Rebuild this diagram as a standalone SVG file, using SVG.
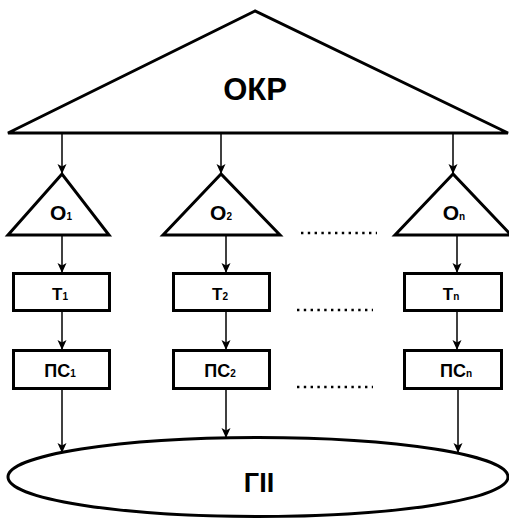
<svg xmlns="http://www.w3.org/2000/svg" width="509" height="518" viewBox="0 0 509 518">
<defs>
<marker id="ah" markerWidth="10" markerHeight="12" refX="9" refY="5" orient="auto" markerUnits="userSpaceOnUse">
<path d="M0,0.5 L10,5 L0,9.5 L2.5,5 Z" fill="#000"/>
</marker>
<style>
.sh{fill:#fff;stroke:#000;stroke-width:3;stroke-linejoin:miter}
.lb{font-family:"Liberation Sans",Arial,sans-serif;font-weight:bold;fill:#000;text-anchor:middle}
.sub{font-size:10px}
.ar{stroke:#000;stroke-width:1.5;fill:none;marker-end:url(#ah)}
.dots{stroke:#000;stroke-width:2.4;stroke-dasharray:2.4 4.4;fill:none}
</style>
</defs>
<rect width="509" height="518" fill="#fff"/>
<g id="okr">
<polygon class="sh" points="255,11 8,133 508,133"/>
<text class="lb" x="255" y="100" font-size="31">ОКР</text>
</g>
<g id="o1">
<polygon class="sh" points="62,174 8,235 109,235"/>
<text class="lb" x="61" y="220" font-size="21">О<tspan class="sub">1</tspan></text>
</g>
<g id="o2">
<polygon class="sh" points="221,174 163,235 280,235"/>
<text class="lb" x="221" y="220" font-size="21">О<tspan class="sub">2</tspan></text>
</g>
<g id="on">
<polygon class="sh" points="453,174 395,235 511,235"/>
<text class="lb" x="454" y="220" font-size="21">О<tspan class="sub">n</tspan></text>
</g>
<g id="t1">
<rect class="sh" x="13.5" y="273.5" width="96" height="37"/>
<text class="lb" x="60" y="300" font-size="17">Т<tspan class="sub">1</tspan></text>
</g>
<g id="t2">
<rect class="sh" x="173.5" y="273.5" width="96" height="37"/>
<text class="lb" x="220" y="300" font-size="17">Т<tspan class="sub">2</tspan></text>
</g>
<g id="tn">
<rect class="sh" x="404.5" y="273.5" width="97" height="37"/>
<text class="lb" x="451" y="300" font-size="17">Т<tspan class="sub">n</tspan></text>
</g>
<g id="ps1">
<rect class="sh" x="13.5" y="350.5" width="96" height="38"/>
<text class="lb" x="60" y="377" font-size="18">ПС<tspan class="sub">1</tspan></text>
</g>
<g id="ps2">
<rect class="sh" x="173.5" y="350.5" width="96" height="38"/>
<text class="lb" x="220" y="377" font-size="18">ПС<tspan class="sub">2</tspan></text>
</g>
<g id="psn">
<rect class="sh" x="404.5" y="350.5" width="97" height="38"/>
<text class="lb" x="456" y="377" font-size="18">ПС<tspan class="sub">n</tspan></text>
</g>
<g id="gii">
<ellipse class="sh" cx="258" cy="477" rx="250" ry="39.5"/>
<text class="lb" x="259" y="492" font-size="27">ГІІ</text>
</g>
<g id="dots">
<line class="dots" x1="301" y1="233" x2="377" y2="233"/>
<line class="dots" x1="297" y1="310" x2="373" y2="310"/>
<line class="dots" x1="297" y1="387" x2="373" y2="387"/>
</g>
<g id="connectors">
<line class="ar" x1="62" y1="134" x2="62" y2="173"/>
<line class="ar" x1="221" y1="134" x2="221" y2="173"/>
<line class="ar" x1="453" y1="134" x2="453" y2="173"/>
<line class="ar" x1="62" y1="236" x2="62" y2="272"/>
<line class="ar" x1="226" y1="236" x2="226" y2="272"/>
<line class="ar" x1="457" y1="236" x2="457" y2="272"/>
<line class="ar" x1="62" y1="312" x2="62" y2="349"/>
<line class="ar" x1="226" y1="312" x2="226" y2="349"/>
<line class="ar" x1="457" y1="312" x2="457" y2="349"/>
<line class="ar" x1="62" y1="390" x2="62" y2="452"/>
<line class="ar" x1="226" y1="390" x2="226" y2="437"/>
<line class="ar" x1="458" y1="390" x2="458" y2="452"/>
</g>
</svg>
